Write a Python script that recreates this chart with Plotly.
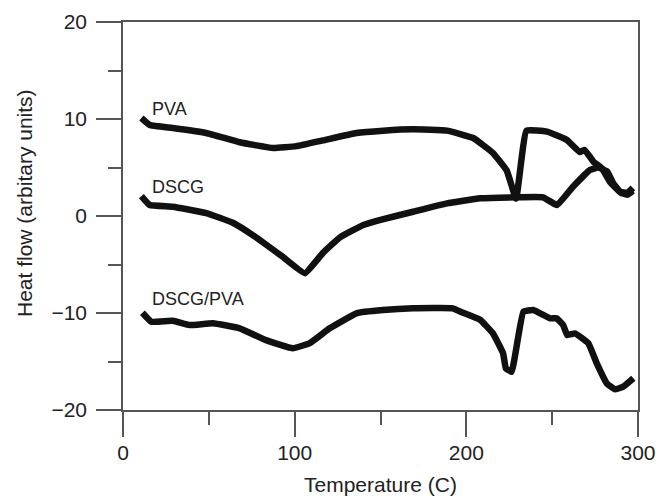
import plotly.graph_objects as go

# Temperature (C) and heat flow readings for each curve
pva_t = [10.7, 15.6, 29, 48.5, 68, 87.5, 101, 116.5, 136, 151.5, 169, 188.7, 204, 215.5, 223.5, 229,
         235, 247, 258.6, 266, 269, 274, 279, 283.7, 289.5, 294, 297]
pva_v = [10.1, 9.38, 9.07, 8.56, 7.6, 7.0, 7.2, 7.8, 8.56, 8.8, 8.94, 8.8, 8.04, 6.5, 4.7, 1.8,
         8.8, 8.7, 7.83, 6.6, 6.8, 5.6, 4.9, 3.5, 2.5, 2.4, 2.9]

dscg_t = [10.7, 15.6, 29, 48.5, 64, 77.5, 93, 106, 116.5, 126.4, 140, 150, 169, 188.7, 208, 229,
          244.7, 252.8, 262, 272, 276.7, 282, 285.5, 290, 294, 297]
dscg_v = [2.06, 1.13, 0.96, 0.3, -0.7, -2.2, -4.2, -5.9, -3.8, -2.2, -0.93, -0.4, 0.44, 1.3, 1.82, 1.93,
          1.93, 1.13, 3.0, 4.74, 5.0, 4.6, 3.4, 2.4, 2.2, 2.6]

mix_t = [11.3, 16.5, 29, 38.8, 52.4, 68, 83.3, 99, 108.8, 120.4, 136, 151.5, 169, 192, 198, 208,
         215.5, 221.4, 223, 226.4, 233.2, 239, 248.7, 252.6, 256.4, 258.8, 263.3, 271, 276, 281.8,
         286.6, 291.4, 297.3]
mix_v = [-9.97, -10.9, -10.8, -11.24, -11.06, -11.58, -12.8, -13.64, -13.1, -11.58, -10.03, -9.7,
         -9.52, -9.52, -9.97, -10.7, -12.1, -14.15, -15.7, -16.05, -9.87, -9.7, -10.55, -10.55,
         -11.24, -12.27, -12.1, -13.1, -15.2, -17.25, -17.87, -17.6, -16.73]

labels = ["PVA", "DSCG", "DSCG/PVA"]
label_x = [15.7, 15.7, 15.7]
label_y = [11.08, 2.99, -8.56]

x_ticks = [0, 100, 200, 300]
y_ticks = [-20, -10, 0, 10, 20]

FONT = "Liberation Sans, Arial, sans-serif"
LINE = "#111111"
AXIS = "#555555"
TXT = "#222222"

fig = go.Figure()
for t, v in [(pva_t, pva_v), (dscg_t, dscg_v), (mix_t, mix_v)]:
    fig.add_trace(go.Scatter(x=t, y=v, mode="lines",
                             line=dict(color=LINE, width=6.5, shape="spline", smoothing=0.3),
                             showlegend=False, hoverinfo="skip"))

for txt, lx, ly in zip(labels, label_x, label_y):
    fig.add_annotation(x=lx, y=ly, text=txt, showarrow=False, xanchor="left", yanchor="middle",
                       font=dict(family=FONT, size=18, color=TXT))

# axis titles
fig.add_annotation(x=0.5, y=0, xref="paper", yref="paper", text="Temperature (C)",
                   showarrow=False, xanchor="center", yanchor="middle", yshift=-74,
                   font=dict(family=FONT, size=21, color=TXT))
fig.add_annotation(x=0, y=0.5335, xref="paper", yref="paper", text="Heat flow (arbitary units)",
                   showarrow=False, xanchor="center", yanchor="middle", xshift=-99, textangle=-90,
                   font=dict(family=FONT, size=21, color=TXT))

fig.update_layout(
    width=656, height=503,
    margin=dict(l=123, r=18, t=22, b=93),
    paper_bgcolor="white", plot_bgcolor="white",
    font=dict(family=FONT, color=TXT),
)
fig.update_xaxes(
    range=[0, 300], tickvals=x_ticks, ticks="outside", ticklen=25, tickwidth=1.5, tickcolor=AXIS,
    minor=dict(tickvals=[50, 150, 250], ticks="outside", ticklen=13, tickwidth=1.5, tickcolor=AXIS),
    showline=True, linecolor=AXIS, linewidth=1.5, mirror=True, showgrid=False, zeroline=False,
    tickfont=dict(family=FONT, size=21, color=TXT), ticklabelstandoff=-2, automargin=False,
)
fig.update_yaxes(
    range=[-20, 20], tickvals=y_ticks, ticks="outside", ticklen=25, tickwidth=1.5, tickcolor=AXIS,
    minor=dict(tickvals=[-15, -5, 5, 15], ticks="outside", ticklen=13, tickwidth=1.5, tickcolor=AXIS),
    showline=True, linecolor=AXIS, linewidth=1.5, mirror=True, showgrid=False, zeroline=False,
    tickfont=dict(family=FONT, size=21, color=TXT), ticklabelstandoff=5, automargin=False,
)

fig.write_html("out.html", config={"displayModeBar": False},
               post_script="document.body.style.margin='0';document.body.style.overflow='hidden';")
